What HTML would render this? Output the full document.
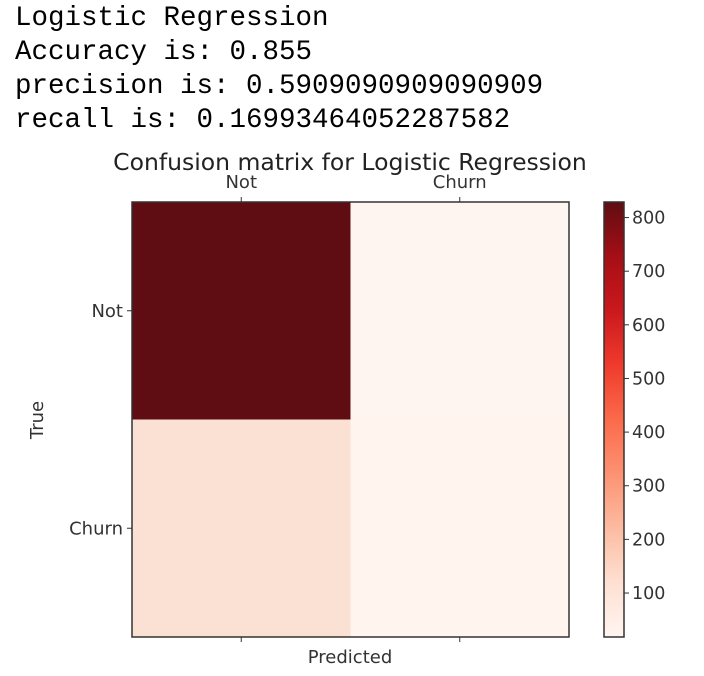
<!DOCTYPE html>
<html><head><meta charset="utf-8"><style>
html,body{margin:0;padding:0;background:#fff;width:704px;height:676px;overflow:hidden}
#txt{position:absolute;left:15px;top:2px;font-family:"Liberation Mono",monospace;font-size:27.5px;line-height:34px;color:#000;white-space:pre}
svg{position:absolute;left:0;top:0}
</style></head><body>
<div id="txt"><div>Logistic Regression</div><div>Accuracy is: 0.855</div><div>precision is: 0.5909090909090909</div><div>recall is: 0.16993464052287582</div></div>
<svg id="chart" width="704" height="676" font-family="DejaVu Sans, Liberation Sans, sans-serif">
<defs><linearGradient id="reds" x1="0" y1="1" x2="0" y2="0">
<stop offset="0" stop-color="#fff5f0"/><stop offset="0.125" stop-color="#fee0d2"/><stop offset="0.25" stop-color="#fcbba1"/><stop offset="0.375" stop-color="#fc9272"/><stop offset="0.5" stop-color="#fb6a4a"/><stop offset="0.625" stop-color="#ef3b2c"/><stop offset="0.75" stop-color="#cb181d"/><stop offset="0.875" stop-color="#a50f15"/><stop offset="1" stop-color="#5f0d12"/>
</linearGradient></defs>
<g id="g"></g>
</svg>
<script>
const classes=["Not","Churn"];
const matrix=[[829,18],[127,26]];
const cbTicks=[100,200,300,400,500,600,700,800];
const NS="http://www.w3.org/2000/svg";
const g=document.getElementById('g');
const L=132,R=569,T=202,B=637;
const vals=matrix.flat();const vmin=Math.min(...vals),vmax=Math.max(...vals);
const stops=[[255,245,240],[250,228,216],[252,187,161],[252,146,114],[251,106,74],[239,59,44],[203,24,29],[165,15,21],[95,13,18]];
function color(v){let t=(v-vmin)/(vmax-vmin);t=Math.max(0,Math.min(1,t))*8;const i=Math.min(7,Math.floor(t)),f=t-i;const a=stops[i],b=stops[i+1];return `rgb(${a.map((c,k)=>Math.round(c+(b[k]-c)*f)).join(',')})`;}
function mk(tag,at,txt){const e=document.createElementNS(NS,tag);for(const k in at)e.setAttribute(k,at[k]);if(txt!=null)e.textContent=txt;g.appendChild(e);return e;}
const n=classes.length,cw=(R-L)/n,ch=(B-T)/n;
const xs=i=>L+cw*(i+0.5),ys=i=>T+ch*(i+0.5);
matrix.forEach((row,i)=>row.forEach((v,j)=>{
 const r=mk('rect',{x:L+cw*j,y:T+ch*i,width:cw+0.5,height:ch+0.5,fill:color(v)});
 
 
}));
const fr=mk('rect',{x:L,y:T,width:R-L,height:B-T,fill:'none',stroke:'#333','stroke-width':1.5});

classes.forEach((c,i)=>{
 mk('line',{x1:xs(i),x2:xs(i),y1:T,y2:T-5,stroke:'#333'});
 mk('line',{x1:xs(i),x2:xs(i),y1:B,y2:B+5,stroke:'#333'});
 const tx=mk('text',{x:xs(i),y:T-14,'text-anchor':'middle','font-size':18,fill:'#333'},c);
 
 mk('line',{x1:L,x2:L-5,y1:ys(i),y2:ys(i),stroke:'#333'});
 const ty=mk('text',{x:L-9,y:ys(i)+6,'text-anchor':'end','font-size':18,fill:'#333'},c);
 
});
const tt=mk('text',{x:350,y:170,'text-anchor':'middle','font-size':23.5,fill:'#222'},'Confusion matrix for Logistic Regression');

const xl=mk('text',{x:350,y:663,'text-anchor':'middle','font-size':18,fill:'#333'},'Predicted');

const yl=mk('text',{x:0,y:0,'text-anchor':'middle','font-size':18,fill:'#333',transform:'translate(43,420) rotate(-90)'},'True');

const CL=604,CR=624;
const cb=mk('rect',{x:CL,y:T,width:CR-CL,height:B-T,fill:'url(#reds)',stroke:'#333','stroke-width':1.5});

const cy=v=>B-(v-vmin)/(vmax-vmin)*(B-T);
cbTicks.forEach(v=>{
 mk('line',{x1:CR,x2:CR+5,y1:cy(v),y2:cy(v),stroke:'#333'});
 const t=mk('text',{x:CR+8,y:cy(v)+6,'font-size':17.5,fill:'#333'},String(v));
 
});
</script>
</body></html>
